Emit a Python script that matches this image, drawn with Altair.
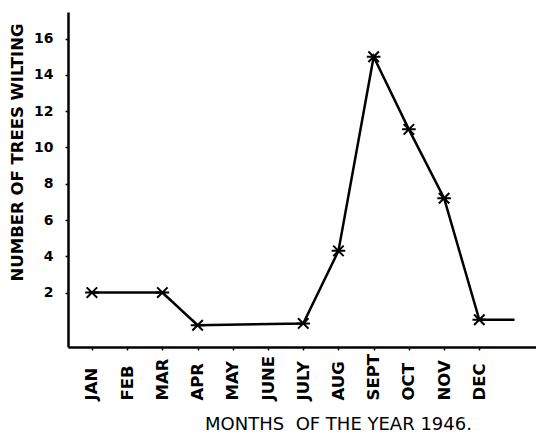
import altair as alt
import pandas as pd

months = ["JAN", "FEB", "MAR", "APR", "MAY", "JUNE", "JULY", "AUG", "SEPT", "OCT", "NOV", "DEC"]
month_ticks = list(range(1, 13))
point_month = [1, 3, 4, 7, 8, 9, 10, 11, 12, 13]
point_value = [2, 2, 0.2, 0.3, 4.3, 15, 11, 7.2, 0.5, 0.5]
point_marked = [True, True, True, True, True, True, True, True, True, False]
y_ticks = [2, 4, 6, 8, 10, 12, 14, 16]

df = pd.DataFrame({"month": point_month, "value": point_value, "marked": point_marked})

label_expr = "[" + ",".join("'%s'" % m for m in months) + "][datum.value - 1]"
FONT = "DejaVu Sans"

x = alt.X(
    "month:Q",
    scale=alt.Scale(domain=[0.32, 13.61], nice=False, zero=False),
    axis=alt.Axis(
        values=month_ticks,
        labelExpr=label_expr,
        labelAngle=270,
        labelAlign="left",
        labelBaseline="middle",
        labelPadding=50,
        labelFont=FONT,
        labelFontSize=16.5,
        labelFontWeight="bold",
        labelColor="black",
        tickSize=3,
        tickColor="black",
        tickWidth=1.5,
        domainColor="black",
        domainWidth=2.5,
        grid=False,
        title="MONTHS\u00a0\u00a0OF THE YEAR 1946.",
        titleFont=FONT,
        titleFontSize=18,
        titleFontWeight="normal",
        titleColor="black",
        titleX=270,
        titleY=77,
        titleAlign="center",
        titleBaseline="middle",
    ),
)

y = alt.Y(
    "value:Q",
    scale=alt.Scale(domain=[-1, 17.47], nice=False, zero=False),
    axis=alt.Axis(
        values=y_ticks,
        labelFont=FONT,
        labelFontSize=14,
        labelFontWeight="bold",
        labelColor="black",
        labelPadding=12,
        tickSize=3,
        tickColor="black",
        tickWidth=1.5,
        domainColor="black",
        domainWidth=2.5,
        grid=False,
        title="NUMBER OF TREES WILTING",
        titleFont=FONT,
        titleFontSize=16.5,
        titleFontWeight="bold",
        titleColor="black",
        titleAngle=270,
        titleX=-43,
        titleY=140,
        titleAlign="center",
        titleBaseline="bottom",
    ),
)

base = alt.Chart(df)
line = base.mark_line(color="black", strokeWidth=2.5).encode(x=x, y=y)
pts = base.transform_filter("datum.marked").mark_point(
    shape="M-1,-1L1,1M-1,1L1,-1M-1.3,0L1.3,0",
    size=110,
    filled=False,
    color="black",
    strokeWidth=2,
    opacity=1,
).encode(x=x, y=y)

chart = (
    alt.layer(line, pts)
    .properties(
        width=468,
        height=335,
        autosize=alt.AutoSizeParams(type="none"),
        padding={"left": 60, "top": 4, "right": 0, "bottom": 90},
        background="white",
    )
    .configure_view(stroke=None)
)

chart.save("out.html", embed_options={"renderer": "svg", "actions": False})
